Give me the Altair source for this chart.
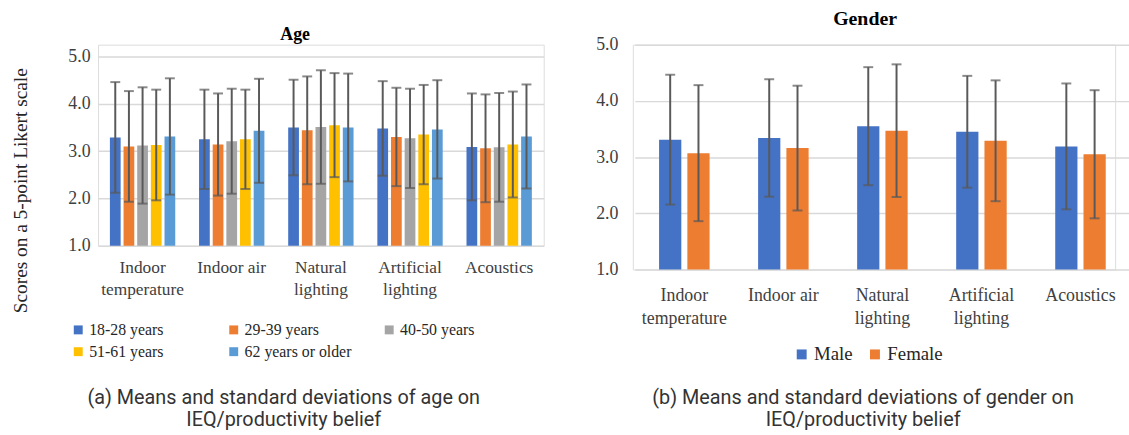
import altair as alt
import pandas as pd

# ---------------- data ----------------
categories = ["Indoor temperature", "Indoor air", "Natural lighting",
              "Artificial lighting", "Acoustics"]
x_tick_labels = [["Indoor", "temperature"], ["Indoor air"], ["Natural", "lighting"],
                 ["Artificial", "lighting"], ["Acoustics"]]

age_groups = ["18-28 years", "29-39 years", "40-50 years", "51-61 years",
              "62 years or older"]
age_colors = ["#4472C4", "#ED7D31", "#A5A5A5", "#FFC000", "#5B9BD5"]
age_mean_18_28 = [3.29, 3.25, 3.50, 3.48, 3.09]
age_mean_29_39 = [3.10, 3.14, 3.44, 3.30, 3.06]
age_mean_40_50 = [3.12, 3.21, 3.51, 3.27, 3.08]
age_mean_51_61 = [3.13, 3.25, 3.55, 3.35, 3.14]
age_mean_62_up = [3.31, 3.43, 3.50, 3.46, 3.31]
age_sd_18_28 = [1.17, 1.05, 1.01, 1.00, 1.13]
age_sd_29_39 = [1.17, 1.08, 1.14, 1.04, 1.14]
age_sd_40_50 = [1.23, 1.11, 1.20, 1.05, 1.15]
age_sd_51_61 = [1.17, 1.05, 1.10, 1.05, 1.12]
age_sd_62_up = [1.23, 1.10, 1.14, 1.04, 1.10]

genders = ["Male", "Female"]
gender_colors = ["#4472C4", "#ED7D31"]
male_mean = [3.31, 3.34, 3.55, 3.45, 3.19]
male_sd = [1.155, 1.045, 1.05, 0.995, 1.12]
female_mean = [3.07, 3.16, 3.47, 3.29, 3.05]
female_sd = [1.21, 1.11, 1.18, 1.075, 1.14]

y_ticks = [1, 2, 3, 4, 5]

# ---------------- tables ----------------
def build(groups, means, sds):
    rows = []
    for g, m, s in zip(groups, means, sds):
        for c, mv, sv in zip(categories, m, s):
            rows.append({"category": c, "group": g, "mean": mv,
                         "lower": mv - sv, "upper": mv + sv})
    return pd.DataFrame(rows)

age_df = build(age_groups,
               [age_mean_18_28, age_mean_29_39, age_mean_40_50, age_mean_51_61, age_mean_62_up],
               [age_sd_18_28, age_sd_29_39, age_sd_40_50, age_sd_51_61, age_sd_62_up])
gender_df = build(genders, [male_mean, female_mean], [male_sd, female_sd])

label_expr = " : ".join(
    f"datum.label == '{c}' ? [{', '.join(repr(p) for p in lines)}]"
    for c, lines in zip(categories, x_tick_labels)) + " : datum.label"

SERIF = "Liberation Serif"
ERR = "#595959"


def panel(df, groups, colors, width, height, ydom, xscale, offpad, label_size,
          ylabel_size, label_pad, ylabel_pad, line_h, caption, cap_x, cap_y,
          legend, title, ytitle=None):
    xaxis = alt.Axis(title=caption, labelExpr=label_expr, labelAngle=0,
                     labelFont=SERIF, labelFontSize=label_size,
                     labelColor="#404040", labelPadding=label_pad,
                     labelLineHeight=line_h, labelBaseline="top",
                     domain=False, ticks=False, grid=False,
                     titleFont="Roboto", titleFontSize=20,
                     titleFontWeight="normal", titleColor="#333333",
                     titleLineHeight=23, titleX=cap_x, titleY=cap_y,
                     titleAlign="center", titleBaseline="top",
                     titleAnchor="start")
    yaxis = dict(values=y_ticks, format=".1f", labelFont=SERIF,
                 labelFontSize=ylabel_size, labelColor="#404040",
                 labelPadding=ylabel_pad, domain=False, ticks=False,
                 grid=True, gridColor="#D9D9D9", gridWidth=1.5)
    if ytitle is not None:
        yaxis.update(title=ytitle, titleFont=SERIF, titleFontSize=19.5,
                     titleFontWeight="normal", titleColor="#262626",
                     titleAngle=270, titleX=-78, titleY=147,
                     titleAlign="center", titleBaseline="middle")
    else:
        yaxis.update(title=None)
    yaxis = alt.Axis(**yaxis)
    yscale = alt.Scale(domain=ydom, nice=False, zero=False)
    xoff = alt.XOffset("group:N", sort=groups,
                       scale=alt.Scale(paddingInner=offpad, paddingOuter=0))
    color = alt.Color("group:N", sort=groups,
                      scale=alt.Scale(domain=groups, range=colors), legend=legend)
    xenc = alt.X("category:N", sort=categories, scale=xscale, axis=xaxis)
    base = alt.Chart(df)
    bars = base.mark_bar().encode(
        x=xenc, xOffset=xoff,
        y=alt.Y("mean:Q", scale=yscale, axis=yaxis),
        y2=alt.datum(1),
        color=color)
    rules = base.mark_rule(color=ERR, strokeWidth=2).encode(
        x=xenc, xOffset=xoff,
        y=alt.Y("lower:Q", scale=yscale, axis=yaxis), y2="upper:Q")
    caps_hi = base.mark_tick(color=ERR, thickness=2, size=10).encode(
        x=xenc, xOffset=xoff,
        y=alt.Y("upper:Q", scale=yscale, axis=yaxis))
    caps_lo = base.mark_tick(color=ERR, thickness=2, size=10).encode(
        x=xenc, xOffset=xoff,
        y=alt.Y("lower:Q", scale=yscale, axis=yaxis))
    return alt.layer(bars, rules, caps_hi, caps_lo).properties(
        width=width, height=height, title=title)


left = panel(
    age_df, age_groups, age_colors, 450, 203, [1, 1 + 203 / 47.75],
    alt.Scale(paddingInner=0.267, paddingOuter=0.133), 0.214, 17.5, 18, 13, 8, 22,
    ["(a) Means and standard deviations of age on", "IEQ/productivity belief"],
    187, 143,
    alt.Legend(orient="none", legendX=-28, legendY=280, columns=3,
               direction="horizontal",
               symbolType="square", symbolSize=81, symbolStrokeWidth=0,
               labelFont=SERIF, labelFontSize=16, labelColor="#262626",
               labelOffset=3, title=None, columnPadding=30, rowPadding=6,
               gridAlign="all"),
    alt.TitleParams("Age", font=SERIF, fontSize=18, fontWeight="bold",
                    color="#000000", anchor="middle", dx=-26, offset=1),
    ytitle="Scores on a 5-point Likert scale")

right = panel(
    gender_df, genders, gender_colors, 487, 227, [1, 5],
    alt.Scale(paddingInner=0.49, paddingOuter=0.245, range=[2, 502]), 0.214, 18, 18, 17, 15, 24,
    ["(b) Means and standard deviations of gender on", "IEQ/productivity belief"],
    232, 119,
    alt.Legend(orient="none", legendX=161, legendY=76 + 227, columns=2,
               direction="horizontal",
               symbolType="square", symbolSize=100, symbolStrokeWidth=0,
               labelFont=SERIF, labelFontSize=19, labelColor="#262626",
               labelOffset=3, title=None, columnPadding=12),
    alt.TitleParams("Gender", font=SERIF, fontSize=20, fontWeight="bold",
                    color="#000000", anchor="middle", dx=-9, offset=7))

chart = alt.hconcat(left, right, spacing=51).resolve_scale(
    color="independent", x="independent", y="independent", xOffset="independent"
).properties(padding={"left": 10, "top": 6, "right": 0, "bottom": 0}
).configure_view(strokeWidth=0).configure(background="white")

chart.save("out.html", embed_options={"renderer": "svg", "actions": False})
